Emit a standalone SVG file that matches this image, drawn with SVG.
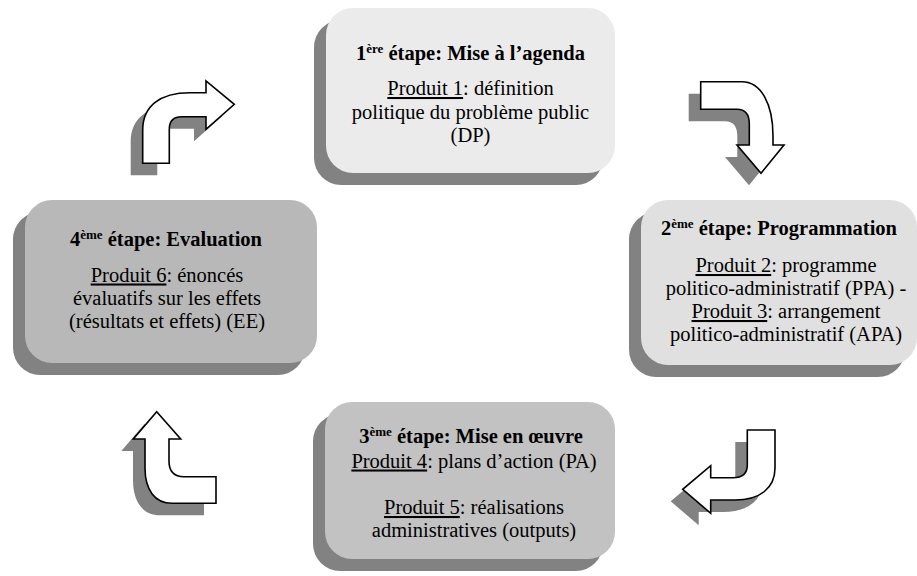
<svg xmlns="http://www.w3.org/2000/svg" width="917" height="576" viewBox="0 0 917 576">
  <style>
    text { font-family: "Liberation Serif", "Times New Roman", serif; font-size: 20.5px; fill: #000; }
    .title { font-weight: bold; }
    .sup { font-size: 13px; }
    .u { text-decoration: underline; }
    .shadow { fill: #828282; }
    .arrow { fill: #fff; stroke: #000; stroke-width: 1.6; stroke-linejoin: miter; }
  </style>
  <defs>
    <!-- curved block arrows, drawn at their final positions -->
    <path id="arrowTL" d="M142.7,163.3 L142.7,130 C142.7,106 160,92.7 190,92.7 L206,92.7 L206,81 L234.3,104.3 L206,129.3 L206,116.7 L182,116.7 C174,116.7 169.3,121 169.3,129 L169.3,163.3 Z"/>
    <path id="arrowTR" d="M700.7,81.7 L742,81.7 C761,81.7 773,104 773,136 L773,145 L784,145 L761,173.3 L737,145 L749.3,145 L749.3,124 C749.3,114 745,109.3 737,109.3 L700.7,109.3 Z"/>
    <path id="arrowBR" d="M747.3,430 L775,430 L775,468 C775,488 760,500 735,500 L710.7,500 L710.7,513.3 L682.7,489.3 L710.7,465.7 L710.7,477.7 L733,477.7 C743,477.7 747.3,473 747.3,465 Z"/>
    <path id="arrowBL" d="M156.7,411.7 L180.7,439 L169,439 L169,461 C169,472 174,476.7 184,476.7 L216,476.7 L216,503.3 L172,503.3 C155,503.3 145,490 145,468 L145,439 L133.3,439 Z"/>
  </defs>

  <!-- stage 1 -->
  <g id="stage1">
    <rect class="shadow" x="314" y="20" width="289" height="165" rx="27"/>
    <rect x="326" y="8" width="289" height="165" rx="27" fill="#ebebeb"/>
    <text class="title" x="470.5" y="59.5" text-anchor="middle">1<tspan class="sup" dy="-7">ère</tspan><tspan dy="7"> étape: Mise à l’agenda</tspan></text>
    <text x="470.5" y="95" text-anchor="middle"><tspan class="u">Produit 1</tspan>: définition</text>
    <text x="470.5" y="118.5" text-anchor="middle">politique du problème public</text>
    <text x="470.5" y="142" text-anchor="middle">(DP)</text>
  </g>

  <!-- stage 2 -->
  <g id="stage2">
    <rect class="shadow" x="629" y="212" width="276" height="165" rx="27"/>
    <rect x="641" y="200" width="276" height="165" rx="27" fill="#e0e0e0"/>
    <text class="title" x="779" y="235" text-anchor="middle">2<tspan class="sup" dy="-7">ème</tspan><tspan dy="7"> étape: Programmation</tspan></text>
    <text x="786" y="272" text-anchor="middle"><tspan class="u">Produit 2</tspan>: programme</text>
    <text x="786" y="295" text-anchor="middle">politico-administratif (PPA) -</text>
    <text x="786" y="318" text-anchor="middle"><tspan class="u">Produit 3</tspan>: arrangement</text>
    <text x="786" y="341" text-anchor="middle">politico-administratif (APA)</text>
  </g>

  <!-- stage 3 -->
  <g id="stage3">
    <rect class="shadow" x="313" y="414" width="290" height="157" rx="27"/>
    <rect x="325" y="402" width="290" height="157" rx="27" fill="#c2c2c2"/>
    <text class="title" x="471" y="442.5" text-anchor="middle">3<tspan class="sup" dy="-7">ème</tspan><tspan dy="7"> étape: Mise en œuvre</tspan></text>
    <text x="474" y="467.5" text-anchor="middle"><tspan class="u">Produit 4</tspan>: plans d’action (PA)</text>
    <text x="474" y="514" text-anchor="middle"><tspan class="u">Produit 5</tspan>: réalisations</text>
    <text x="474" y="537" text-anchor="middle">administratives (outputs)</text>
  </g>

  <!-- stage 4 -->
  <g id="stage4">
    <rect class="shadow" x="13" y="212" width="292" height="163" rx="27"/>
    <rect x="25" y="200" width="292" height="163" rx="27" fill="#b8b8b8"/>
    <text class="title" x="166" y="246" text-anchor="middle">4<tspan class="sup" dy="-7">ème</tspan><tspan dy="7"> étape: Evaluation</tspan></text>
    <text x="167" y="281.5" text-anchor="middle"><tspan class="u">Produit 6</tspan>: énoncés</text>
    <text x="167" y="305" text-anchor="middle">évaluatifs sur les effets</text>
    <text x="167" y="328" text-anchor="middle">(résultats et effets) (EE)</text>
  </g>

  <!-- connectors: block arrows with drop shadows -->
  <g id="connectors">
    <use href="#arrowTR" class="shadow" transform="translate(-12,12)"/>
    <use href="#arrowTR" class="arrow"/>
    <use href="#arrowBR" class="shadow" transform="translate(-12,12)"/>
    <use href="#arrowBR" class="arrow"/>
    <use href="#arrowBL" class="shadow" transform="translate(-12,12)"/>
    <use href="#arrowBL" class="arrow"/>
    <use href="#arrowTL" class="shadow" transform="translate(-12,12)"/>
    <use href="#arrowTL" class="arrow"/>
  </g>
</svg>
